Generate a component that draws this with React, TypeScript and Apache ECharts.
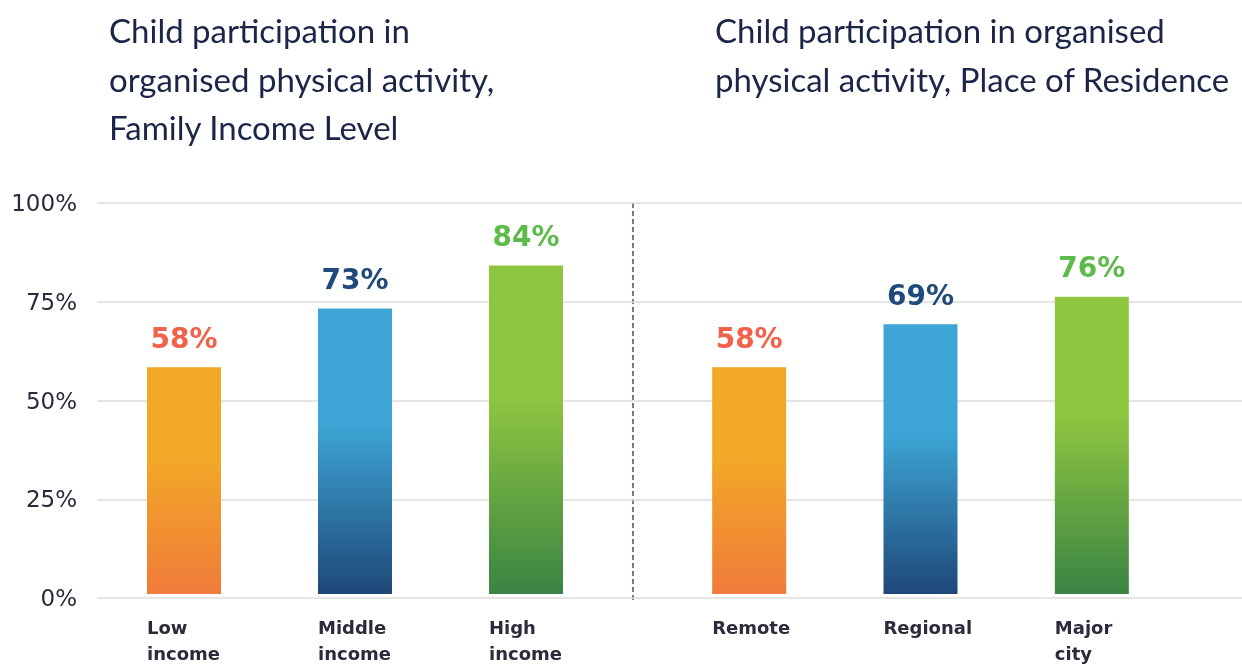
import React, { useEffect, useRef } from 'react';
import * as echarts from 'echarts';

const incomeCategories = ['Low\nincome', 'Middle\nincome', 'High\nincome'];
const incomeValues = [58, 73, 84];
const residenceCategories = ['Remote', 'Regional', 'Major\ncity'];
const residenceValues = [58, 69, 76];
const titleIncome = 'Child participation in\norganised physical activity,\nFamily Income Level';
const titleResidence = 'Child participation in organised\nphysical activity, Place of Residence';

const barTop = ['#F2A827', '#3DA6D6', '#8FC640'];
const barBottom = ['#F07B3A', '#1E4878', '#3A8443'];
const labelColors = ['#F2624A', '#1F4A7C', '#5DBB4B'];

const TITLE_FONT = '"Lato", sans-serif';
const AXIS_FONT = '"DejaVu Sans", "Noto Sans", sans-serif';

function makeData(values: number[]) {
  return values.map((v, i) => ({
    value: v,
    itemStyle: {
      color: new echarts.graphic.LinearGradient(0, 0, 0, 1, [
        { offset: 0, color: barTop[i] },
        { offset: 0.4, color: barTop[i] },
        { offset: 1, color: barBottom[i] },
      ]),
    },
    label: { color: labelColors[i] },
  }));
}

export default function App() {
  const ref = useRef<HTMLDivElement>(null);
  useEffect(() => {
    if (!ref.current) return;
    const chart = echarts.init(ref.current, undefined, { renderer: 'svg' });
    const catAxis = (data: string[], gridIndex: number) => ({
      type: 'category',
      gridIndex,
      data,
      axisLine: { show: false },
      axisTick: { show: false },
      axisLabel: {
        align: 'left',
        padding: [0, 0, 0, -37],
        margin: 20,
        fontFamily: AXIS_FONT,
        fontWeight: 'bold',
        fontSize: 18,
        lineHeight: 26,
        color: '#2b2b3b',
        interval: 0,
      },
    });
    const hiddenY = (gridIndex: number) => ({
      type: 'value',
      gridIndex,
      min: 0,
      max: 100,
      interval: 25,
      show: false,
      splitLine: { show: false },
    });
    const barSeries = (values: number[], idx: number) => ({
      type: 'bar',
      xAxisIndex: idx,
      yAxisIndex: idx,
      barWidth: 74,
      data: makeData(values),
      label: {
        show: true,
        position: 'top',
        distance: 15,
        formatter: '{c}%',
        fontFamily: AXIS_FONT,
        fontWeight: 'bold',
        fontSize: 28,
      },
    });
    const titleStyle = { fontFamily: TITLE_FONT, fontSize: 33, lineHeight: 48.5, fontWeight: 'normal', color: '#1b2548' };
    chart.setOption({
      animation: false,
      title: [
        { text: titleIncome, left: 104, top: 1, textStyle: titleStyle },
        { text: titleResidence, left: 710, top: 1, textStyle: titleStyle },
      ],
      grid: [
        { left: 97, right: 0, top: 203, bottom: 68 },
        { left: 98.5, width: 513, top: 203, bottom: 68 },
        { left: 663.5, width: 514, top: 203, bottom: 68 },
      ],
      xAxis: [
        { type: 'value', gridIndex: 0, min: 0, max: 1, show: false },
        catAxis(incomeCategories, 1),
        catAxis(residenceCategories, 2),
      ],
      yAxis: [
        {
          type: 'value',
          gridIndex: 0,
          min: 0,
          max: 100,
          interval: 25,
          axisLine: { show: false },
          axisTick: { show: false },
          axisLabel: {
            formatter: '{value}%',
            margin: 20,
            fontFamily: AXIS_FONT,
            fontSize: 23,
            color: '#2b2b3b',
          },
          splitLine: { lineStyle: { color: '#dcdcdc', width: 1.5 } },
        },
        hiddenY(1),
        hiddenY(2),
      ],
      series: [barSeries(incomeValues, 1), barSeries(residenceValues, 2)],
      graphic: [
        {
          type: 'line',
          shape: { x1: 633, y1: 203, x2: 633, y2: 600 },
          style: { stroke: '#4a4f75', lineWidth: 1.5, lineDash: [5, 3] },
        },
      ],
    });
    return () => chart.dispose();
  }, []);
  return <div ref={ref} style={{ position: 'fixed', left: 0, top: 0, width: 1242, height: 666 }} />;
}
